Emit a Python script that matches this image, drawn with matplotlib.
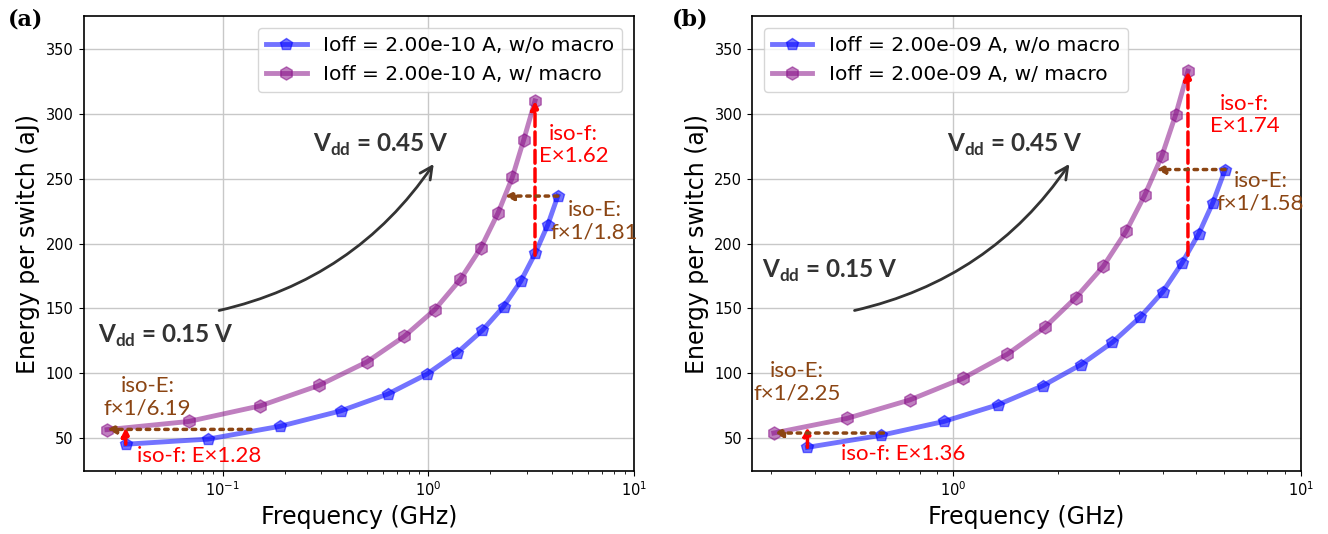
import matplotlib
matplotlib.use("Agg")
import matplotlib.pyplot as plt

# ---------------------------------------------------------------------------
# Data: energy per switch vs. operating frequency, Vdd swept 0.15 V -> 0.45 V
# ---------------------------------------------------------------------------

# panel (a): Ioff = 2.00e-10 A
freq_a_nomacro = [0.0337, 0.0845, 0.190, 0.374, 0.637, 0.98, 1.375, 1.83,
                  2.32, 2.81, 3.31, 3.80, 4.26]
energy_a_nomacro = [45.6, 49.5, 59.4, 71.2, 84.3, 99.4, 115.7, 133.2,
                    151.5, 170.8, 192.6, 214.0, 236.5]
freq_a_macro = [0.0273, 0.0682, 0.152, 0.293, 0.502, 0.762, 1.074, 1.43,
                1.80, 2.18, 2.56, 2.91, 3.30]
energy_a_macro = [56.8, 63.1, 75.1, 90.8, 108.9, 128.5, 149.1, 172.4,
                  196.7, 223.4, 250.9, 279.9, 309.7]

# panel (b): Ioff = 2.00e-09 A
freq_b_nomacro = [0.381, 0.619, 0.940, 1.343, 1.808, 2.33, 2.87, 3.44,
                  4.00, 4.54, 5.08, 5.58, 6.05]
energy_b_nomacro = [43.2, 52.4, 63.1, 75.9, 90.5, 106.8, 124.0, 143.1,
                    162.7, 184.7, 207.5, 231.5, 256.9]
freq_b_macro = [0.305, 0.494, 0.749, 1.067, 1.432, 1.834, 2.25, 2.70,
                3.14, 3.55, 3.98, 4.36, 4.73]
energy_b_macro = [54.2, 65.4, 79.6, 96.3, 114.9, 135.5, 158.3, 182.4,
                  209.3, 237.0, 267.4, 299.0, 332.5]

IOFF_LABELS = ["2.00e-10", "2.00e-09"]

# iso-f / iso-E comparisons: (freq, E_from, E_to) and (E, f_from, f_to)
ISO_F_A = [(0.0337, 45.6, 58.4, "iso-f: E×1.28"), (3.30, 191.0, 309.7, "iso-f:\nE×1.62")]
ISO_E_A = [(57.0, 0.137, 0.0273, "iso-E:\nf×1/6.19"), (236.5, 4.26, 2.35, "iso-E:\nf×1/1.81")]
ISO_F_B = [(0.381, 43.2, 58.8, "iso-f: E×1.36"), (4.73, 191.0, 332.5, "iso-f:\nE×1.74")]
ISO_E_B = [(54.2, 0.63, 0.305, "iso-E:\nf×1/2.25"), (256.9, 6.05, 3.83, "iso-E:\nf×1/1.58")]

C_BLUE = "blue"
C_PURPLE = "purple"
C_RED = "red"
C_BROWN = "saddlebrown"
C_GREY = "#333333"
ANN_FONT = "Lato"

plt.rcParams.update({
    "font.family": "DejaVu Sans",
    "xtick.labelsize": 10.5,
    "ytick.labelsize": 10.5,
    "axes.linewidth": 1.2,
})


def draw_panel(ax, f_no, e_no, f_mac, e_mac, ioff, legend_loc, xlim):
    ax.plot(f_no, e_no, color=C_BLUE, marker="p", markersize=9, lw=3.5,
            alpha=0.55, label=f"Ioff = {ioff} A, w/o macro", zorder=3)
    ax.plot(f_mac, e_mac, color=C_PURPLE, marker="h", markersize=9.5, lw=3.5,
            alpha=0.5, label=f"Ioff = {ioff} A, w/ macro", zorder=3)
    ax.set_xscale("log")
    ax.set_xlim(*xlim)
    ax.set_ylim(25, 375)
    ax.set_yticks(range(50, 351, 50))
    ax.grid(True, which="major", color="#c8c8c8", lw=1.0)
    ax.set_axisbelow(True)
    ax.set_xlabel("Frequency (GHz)", fontsize=17)
    ax.set_ylabel("Energy per switch (aJ)", fontsize=17)
    ax.legend(loc=legend_loc, fontsize=14.5, handlelength=2.0,
              borderaxespad=0.6)


def iso_arrows(ax, iso_f, iso_e):
    for f, e0, e1, _ in iso_f:
        ax.annotate("", xy=(f, e1), xytext=(f, e0), zorder=4,
                    arrowprops=dict(arrowstyle="-|>", color=C_RED, lw=2.5,
                                    linestyle="--", mutation_scale=12,
                                    shrinkA=0, shrinkB=0))
    for e, f0, f1, _ in iso_e:
        ax.annotate("", xy=(f1, e), xytext=(f0, e), zorder=4,
                    arrowprops=dict(arrowstyle="-|>", color=C_BROWN, lw=2.5,
                                    linestyle=":", mutation_scale=12,
                                    shrinkA=0, shrinkB=0))


def vdd_sweep(ax, start, end, lo_pos, hi_pos):
    ax.annotate("", xy=end, xytext=start,
                arrowprops=dict(arrowstyle="->", color=C_GREY, lw=2,
                                mutation_scale=22,
                                connectionstyle="arc3,rad=0.2"))
    kw = dict(family=ANN_FONT, fontweight="bold", fontsize=17.5, color=C_GREY,
              va="center", ha="left")
    ax.text(*lo_pos, r"V$_{\mathregular{dd}}$ = 0.15 V", **kw)
    ax.text(*hi_pos, r"V$_{\mathregular{dd}}$ = 0.45 V", **kw)


def label(ax, pos, text, colour):
    ax.text(*pos, text, family=ANN_FONT, fontsize=16, color=colour,
            ha="center", va="center", linespacing=1.15)


fig = plt.figure(figsize=(13.28, 5.34), dpi=100)
ax_a = fig.add_axes([0.0629, 0.118, 0.4145, 0.852])
ax_b = fig.add_axes([0.5663, 0.118, 0.4134, 0.852])

# (a)
draw_panel(ax_a, freq_a_nomacro, energy_a_nomacro, freq_a_macro, energy_a_macro,
           IOFF_LABELS[0], "upper right", (0.021, 10))
iso_arrows(ax_a, ISO_F_A, ISO_E_A)
vdd_sweep(ax_a, (0.093, 148), (1.08, 263), (0.0248, 129), (0.273, 276))
label(ax_a, (0.0764, 36.5), ISO_F_A[0][3], C_RED)
label(ax_a, (5.08, 276), ISO_F_A[1][3], C_RED)
label(ax_a, (0.043, 82), ISO_E_A[0][3], C_BROWN)
label(ax_a, (6.41, 217), ISO_E_A[1][3], C_BROWN)

# (b)
draw_panel(ax_b, freq_b_nomacro, energy_b_nomacro, freq_b_macro, energy_b_macro,
           IOFF_LABELS[1], "upper left", (0.264, 10))
iso_arrows(ax_b, ISO_F_B, ISO_E_B)
vdd_sweep(ax_b, (0.511, 148), (2.18, 263), (0.2826, 179), (0.961, 276))
label(ax_b, (0.716, 37.7), ISO_F_B[0][3], C_RED)
label(ax_b, (6.88, 299), ISO_F_B[1][3], C_RED)
label(ax_b, (0.356, 93.5), ISO_E_B[0][3], C_BROWN)
label(ax_b, (7.64, 239.5), ISO_E_B[1][3], C_BROWN)

fig.text(0.006, 0.964, "(a)", family="DejaVu Serif", fontweight="bold",
         fontsize=16, va="center", ha="left")
fig.text(0.506, 0.964, "(b)", family="DejaVu Serif", fontweight="bold",
         fontsize=16, va="center", ha="left")

fig.savefig("out.png", dpi=100)
